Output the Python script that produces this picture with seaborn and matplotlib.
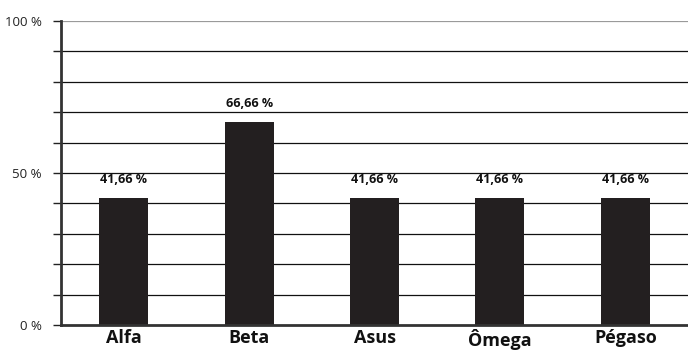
import matplotlib
matplotlib.use("Agg")
import matplotlib.pyplot as plt
import seaborn as sns
import pandas as pd

categories = ["Alfa", "Beta", "Asus", "Ômega", "Pégaso"]
values = [41.66, 66.66, 41.66, 41.66, 41.66]
value_labels = ["41,66 %", "66,66 %", "41,66 %", "41,66 %", "41,66 %"]
ytick_values = [0, 50, 100]
ytick_labels = ["0 %", "50 %", "100 %"]

sns.set_theme(style="white")
plt.rcParams["font.family"] = ["Open Sans", "DejaVu Sans"]

df = pd.DataFrame({"cat": categories, "val": values})

fig = plt.figure(figsize=(6.88, 3.52), dpi=100)
ax = fig.add_axes([61 / 688, 1 - 325 / 352, (688 - 61) / 688, (325 - 21) / 352])

for y in range(10, 100, 10):
    ax.axhline(y, color="#111111", lw=0.9, zorder=0)
ax.axhline(100, color="#9a9a9a", lw=1.6, zorder=0)

sns.barplot(data=df, x="cat", y="val", color="#231f20", width=0.39,
            saturation=1, ax=ax, zorder=2, linewidth=0, edgecolor="none")

for i, (v, lab) in enumerate(zip(values, value_labels)):
    ax.text(i, v + 4.0, lab, ha="center", va="bottom", fontsize=9,
            fontweight="bold", color="#111111")

ax.set_xlim(-0.5, 4.5)
ax.set_ylim(0, 100)
ax.set_yticks(range(0, 101, 10))
ax.set_yticklabels([ytick_labels[ytick_values.index(t)] if t in ytick_values else "" for t in range(0, 101, 10)],
                   fontsize=9.5)
ax.tick_params(axis="y", which="both", direction="out", length=6, width=1,
               color="#222222", left=True, pad=8, labelcolor="#222222")
ax.tick_params(axis="x", length=0, pad=3, labelsize=13)
for lbl in ax.get_xticklabels():
    lbl.set_fontweight("bold")
    lbl.set_color("#111111")
ax.set_xlabel("")
ax.set_ylabel("")

for s in ["top", "right"]:
    ax.spines[s].set_visible(False)
ax.spines["left"].set_color("#333333")
ax.spines["left"].set_linewidth(2)
ax.spines["bottom"].set_color("#333333")
ax.spines["bottom"].set_linewidth(2)

fig.savefig("out.png", dpi=100)
